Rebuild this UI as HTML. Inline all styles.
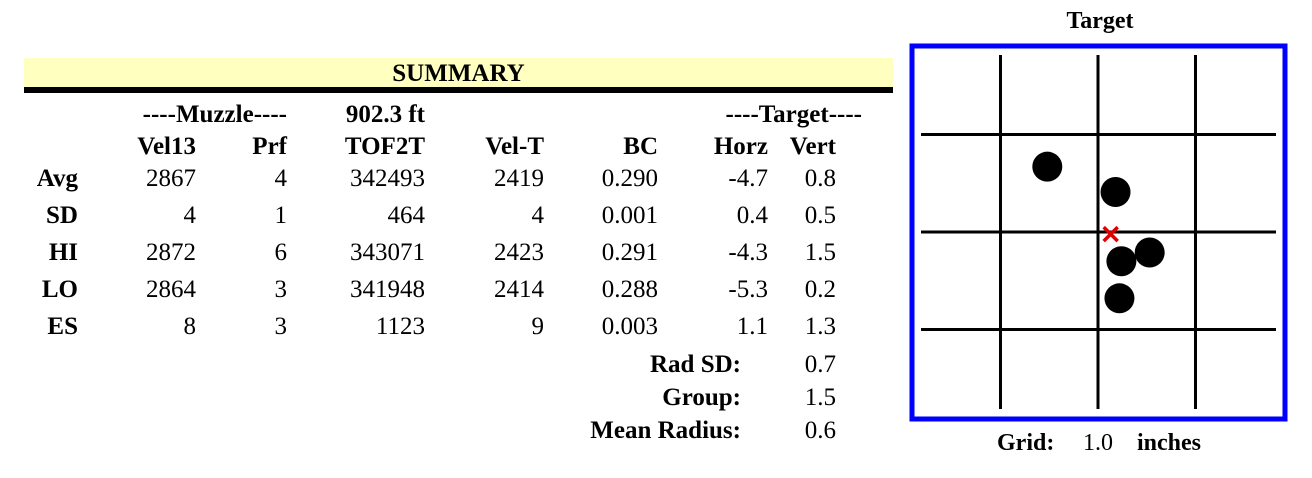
<!DOCTYPE html>
<html><head><meta charset="utf-8"><style>
body{margin:0;width:1312px;height:478px;background:#fff;position:relative;overflow:hidden;font-family:"Liberation Serif",serif;font-size:25px;color:#000}
.t{position:absolute;height:30px;line-height:30px;white-space:nowrap}
.r{text-align:right}
.b{font-weight:bold}
</style></head><body>
<div style="position:absolute;left:24px;top:58px;width:869px;height:29px;background:#ffffc0"></div>
<div style="position:absolute;left:24px;top:87px;width:869px;height:6px;background:#000"></div>
<div class="t b" style="left:24px;width:869px;text-align:center;top:59px">SUMMARY</div>
<div id="tbl"></div>
<div class="t b" style="left:1040px;width:120px;text-align:center;top:6px;font-size:24px">Target</div>
<svg id="tgt" width="1312" height="478" style="position:absolute;left:0;top:0"></svg>
<div class="t b" style="left:997px;top:428px;font-size:24px">Grid:</div>
<div class="t" style="left:1083px;top:428px;font-size:24px">1.0</div>
<div class="t b" style="left:1137px;top:428px;font-size:24px">inches</div>
<script>
const colHeaders=["Vel13","Prf","TOF2T","Vel-T","BC","Horz","Vert"];
const rowLabels=["Avg","SD","HI","LO","ES"];
const vel13=["2867","4","2872","2864","8"];
const prf=["4","1","6","3","3"];
const tof2t=["342493","464","343071","341948","1123"];
const velT=["2419","4","2423","2414","9"];
const bc=["0.290","0.001","0.291","0.288","0.003"];
const horz=["-4.7","0.4","-4.3","-5.3","1.1"];
const vert=["0.8","0.5","1.5","0.2","1.3"];
const statLabels=["Rad SD:","Group:","Mean Radius:"];
const statValues=["0.7","1.5","0.6"];
const shotX=[-0.52,0.18,0.24,0.53,0.22];
const shotY=[0.67,0.41,-0.30,-0.21,-0.68];
const gridSize=1.0;

const tbl=document.getElementById('tbl');
function txt(s,right,center,cls,name){
  const d=document.createElement('div');
  d.className='t r '+(cls||'');
  d.style.width='300px';d.style.left=(right-300)+'px';d.style.top=(center-15)+'px';
  d.textContent=s;
  
  
  tbl.appendChild(d);
}
const colRight=[196,287,425,544,658,768,836];
const cols=[vel13,prf,tof2t,velT,bc,horz,vert];
const rowCenter=[179,216,253,290,327];
txt("----Muzzle----",287,115,'b','muzzle-group-header');
txt("902.3 ft",425,115,'b','distance-header');
txt("----Target----",862,115,'b','target-group-header');
colHeaders.forEach((h,i)=>txt(h,colRight[i],147,'b','col-header'));
rowLabels.forEach((l,r)=>{
  txt(l,78,rowCenter[r],'b','row-label');
  cols.forEach((c,i)=>txt(c[r],colRight[i],rowCenter[r],'','cell-value'));
});
statLabels.forEach((l,i)=>{
  txt(l,741,365+i*33,'b','stat-label');
  txt(statValues[i],836,365+i*33,'','stat-value');
});

const svg=document.getElementById('tgt');
const NS='http://www.w3.org/2000/svg';
const cx=1098,cy=232,ppi=97.5/gridSize;
const sx=v=>cx+v*ppi, sy=v=>cy-v*ppi;
function el(t,a,name){const e=document.createElementNS(NS,t);for(const k in a)e.setAttribute(k,a[k]);


svg.appendChild(e);return e;}
el('rect',{x:912,y:46,width:373,height:373,fill:'none',stroke:'#0000ff','stroke-width':5},'target-frame');
[-1,0,1].forEach(g=>{
  el('line',{x1:sx(g),x2:sx(g),y1:55,y2:409,stroke:'#000','stroke-width':3},'grid-vertical');
  el('line',{x1:921,x2:1276,y1:sy(g),y2:sy(g),stroke:'#000','stroke-width':3},'grid-horizontal');
});
shotX.forEach((x,i)=>el('circle',{cx:sx(x),cy:sy(shotY[i]),r:15,fill:'#000'},'shot-impact'));
const mx=shotX.reduce((a,b)=>a+b,0)/shotX.length, my=shotY.reduce((a,b)=>a+b,0)/shotY.length;
const X=sx(mx),Y=sy(my);
el('path',{d:`M${X-7} ${Y-7}L${X+7} ${Y+7}M${X+7} ${Y-7}L${X-7} ${Y+7}`,stroke:'#e00000','stroke-width':3.5},'group-center-mark');
</script>
</body></html>
